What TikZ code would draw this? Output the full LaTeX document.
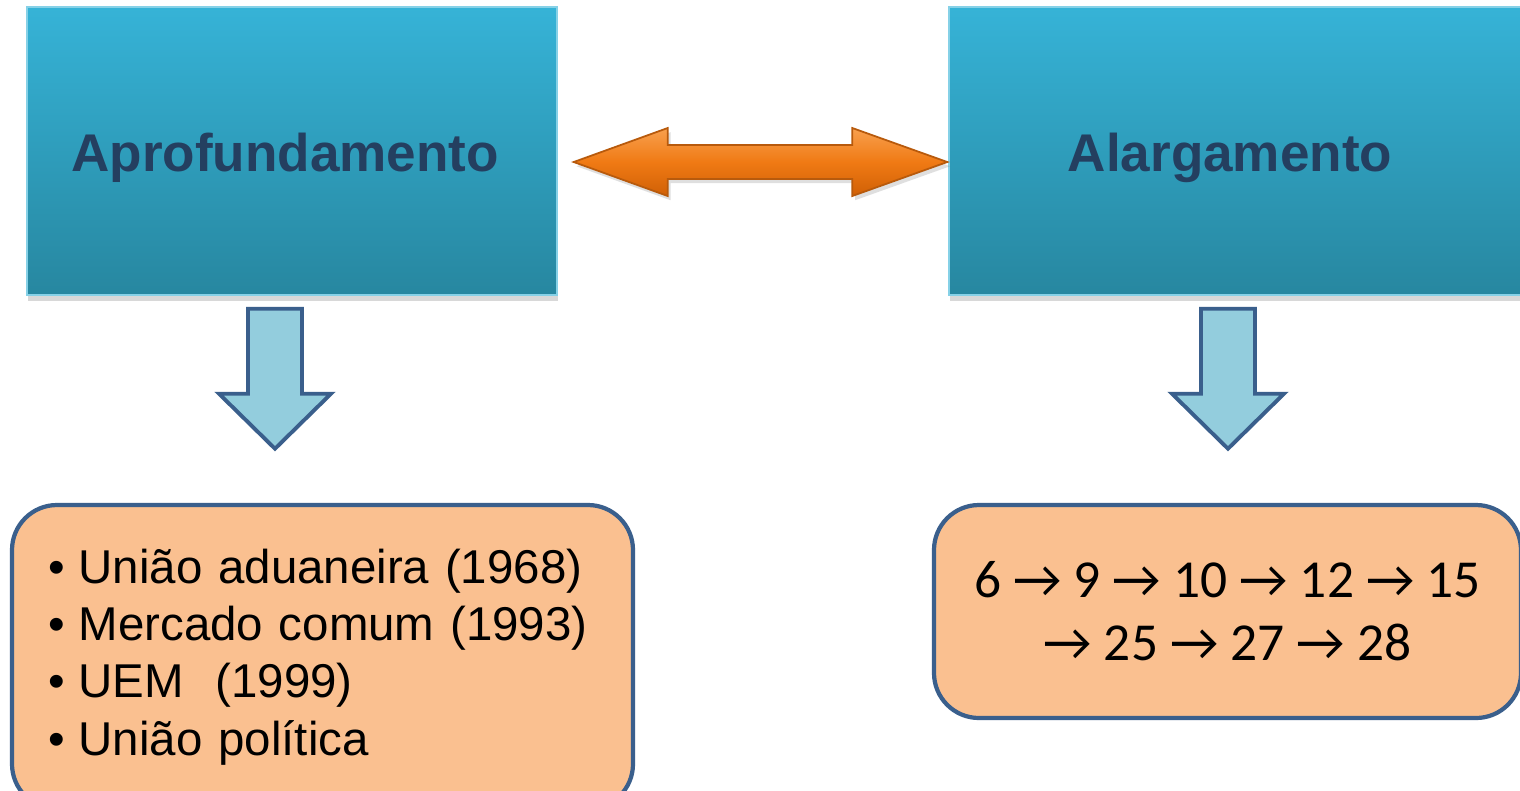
\documentclass[tikz,border=0pt]{standalone}
\usepackage{fontspec}
\setmainfont{Liberation Sans}
\newfontfamily\numfont{Carlito}
\usetikzlibrary{calc,shadows}
\begin{document}
\begin{tikzpicture}[
  topbox/.style={rectangle, minimum width=#1, minimum height=2.88cm, inner sep=0pt, text height=0.41cm, text depth=0pt, top color=boxtop, bottom color=boxbot, draw=boxtop!60!white, line width=0.4pt, drop shadow={shadow xshift=0.4pt, shadow yshift=-1.6pt, opacity=0.3}, font=\bfseries\fontsize{15.1}{18}\selectfont, text=titlecol},
  bottombox/.style={rectangle, rounded corners=0.45cm, fill=boxfill, draw=boxedge, line width=1.2pt, inner ysep=0pt},
  bigarrow/.style={top color=orangetop, bottom color=orangebot, middle color=orangemid, draw=orangeedge, line width=0.5pt, line join=miter, drop shadow={shadow xshift=0.8pt, shadow yshift=-1.2pt, opacity=0.25}},
  downarrow/.style={fill=arrowfill, draw=boxedge, line width=1.1pt, line join=miter}
]
\definecolor{boxtop}{HTML}{36B3D7}
\definecolor{boxbot}{HTML}{2787A0}
\definecolor{titlecol}{HTML}{243F60}
\definecolor{boxfill}{HTML}{FAC090}
\definecolor{boxedge}{HTML}{3A5F8C}
\definecolor{arrowfill}{HTML}{93CDDD}
\definecolor{orangetop}{HTML}{F8A04E}
\definecolor{orangemid}{HTML}{F07A14}
\definecolor{orangebot}{HTML}{D06006}
\definecolor{orangeedge}{HTML}{B85A0C}
\useasboundingbox[fill=white] (0,0) rectangle (15.2,-7.9);
\newcommand{\downblock}[1]{\draw[downarrow] ($(#1)+(-0.27,0)$) -- ++(0.54,0) -- ++(0,-0.85) -- ++(0.29,0) -- ($(#1)+(0,-1.40)$) -- ($(#1)+(-0.56,-0.85)$) -- ++(0.29,0) -- cycle;}
\newcommand{\itm}{\textbullet\hspace{0.14cm}}
\node[topbox=5.30cm] (apr) at (2.92,-1.51) {Aprofundamento\kern0.14cm};
\node[topbox=5.76cm] (alg) at (12.37,-1.51) {Alargamento\kern0.14cm};
\coordinate (l) at ($(apr.east)+(0.16,-0.11)$);
\coordinate (r) at ($(alg.west)+(-0.01,-0.11)$);
\draw[bigarrow] (l) -- ++(0.94,0.34) -- ++(0,-0.17) -- ($(r)+(-0.95,0.17)$) -- ++(0,0.17) -- (r) -- ++(-0.95,-0.34) -- ++(0,0.17) -- ($(l)+(0.94,-0.17)$) -- ++(0,-0.17) -- cycle;
\coordinate (dl) at ($(apr.south)+(-0.17,-0.13)$);
\coordinate (dr) at ($(alg.south)+(-0.09,-0.13)$);
\downblock{dl}
\downblock{dr}
\node[bottombox, minimum width=6.21cm, minimum height=3.04cm, inner xsep=0.36cm, text width=5.49cm, align=left, font=\fontsize{13.5}{16.3}\selectfont] (lst) at (3.225,-6.57) {\itm União aduaneira (1968)\\
\itm Mercado comum (1993)\\
\itm UEM\ \ (1999)\\
\itm União política};
\node[bottombox, minimum width=5.87cm, minimum height=2.13cm, align=center, font=\numfont\fontsize{15.2}{17.9}\selectfont] (seq) at (12.275,-6.115) {6 → 9 → 10 → 12 → 15\\
→ 25 → 27 → 28};
\end{tikzpicture}
\end{document}
